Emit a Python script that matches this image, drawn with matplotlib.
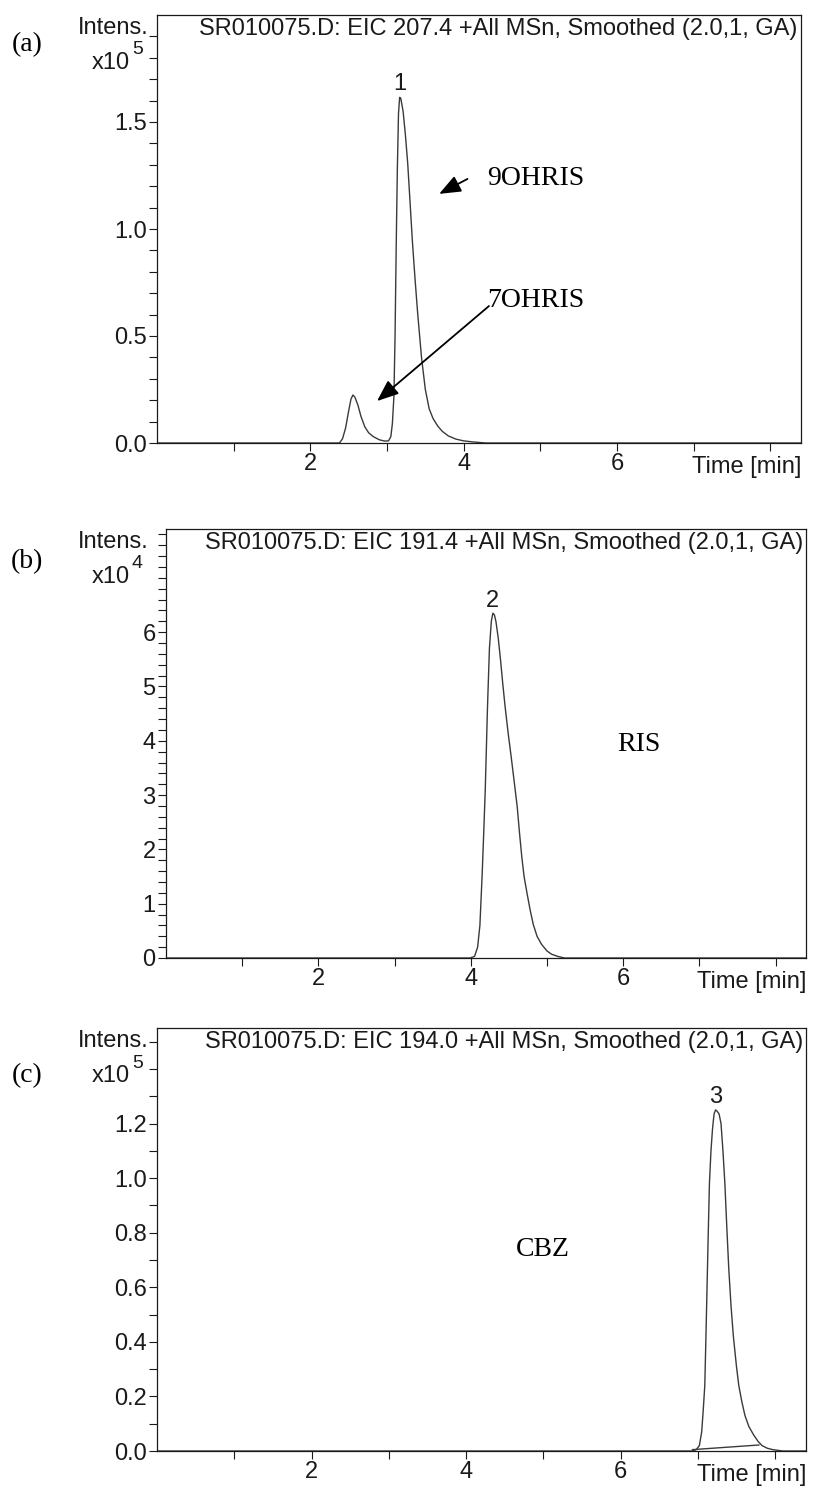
import matplotlib

matplotlib.use("Agg")
import matplotlib.pyplot as plt
from matplotlib.ticker import FixedLocator, FuncFormatter

SANS = "Liberation Sans"
SERIF = "Liberation Serif"
INK = "#1a1a1a"
TRACE = "#3a3a3a"

# (a) EIC 207.4, intensity in units of 1e5
A_TIME = [0.0, 2.38, 2.42, 2.46, 2.50, 2.53, 2.555, 2.58, 2.62, 2.66, 2.71, 2.76,
          2.82, 2.90, 2.97, 3.02, 3.05, 3.07, 3.09, 3.105, 3.12, 3.135, 3.15,
          3.165, 3.18, 3.21, 3.24, 3.27, 3.30, 3.33, 3.365, 3.40, 3.45, 3.50,
          3.55, 3.60, 3.66, 3.72, 3.80, 3.90, 4.00, 4.12, 4.29, 8.4]
A_INT = [0.0, 0.0, 0.02, 0.07, 0.15, 0.205, 0.224, 0.215, 0.178, 0.125, 0.076,
         0.048, 0.030, 0.015, 0.009, 0.010, 0.03, 0.09, 0.216, 0.50, 0.917, 1.28,
         1.54, 1.615, 1.61, 1.55, 1.44, 1.307, 1.13, 0.949, 0.77, 0.606, 0.40,
         0.25, 0.16, 0.115, 0.08, 0.055, 0.033, 0.018, 0.010, 0.005, 0.0, 0.0]

# (b) EIC 191.4, intensity in units of 1e4
B_TIME = [0.0, 3.99, 4.05, 4.09, 4.12, 4.15, 4.17, 4.19, 4.22, 4.245, 4.27, 4.29,
          4.31, 4.33, 4.36, 4.39, 4.42, 4.45, 4.49, 4.53, 4.57, 4.61, 4.64, 4.67,
          4.70, 4.74, 4.78, 4.82, 4.87, 4.93, 5.00, 5.06, 5.14, 5.23, 8.4]
B_INT = [0.0, 0.0, 0.03, 0.2, 0.6, 1.55, 2.3, 3.09, 4.64, 5.7, 6.2, 6.35, 6.32,
         6.2, 5.9, 5.5, 5.05, 4.64, 4.15, 3.71, 3.25, 2.78, 2.3, 1.86, 1.5, 1.18,
         0.88, 0.62, 0.40, 0.25, 0.13, 0.07, 0.03, 0.0, 0.0]

# (c) EIC 194.0, intensity in units of 1e5
C_TIME = [0.0, 6.93, 6.98, 7.02, 7.05, 7.07, 7.09, 7.105, 7.12, 7.135, 7.15, 7.17,
          7.19, 7.21, 7.23, 7.25, 7.275, 7.30, 7.325, 7.35, 7.375, 7.40, 7.43,
          7.46, 7.50, 7.53, 7.57, 7.61, 7.66, 7.72, 7.78, 7.83, 7.90, 7.97, 8.10, 8.4]
C_INT = [0.0, 0.0, 0.005, 0.02, 0.07, 0.15, 0.24, 0.42, 0.61, 0.80, 0.98, 1.10,
         1.18, 1.235, 1.25, 1.245, 1.235, 1.20, 1.10, 0.98, 0.82, 0.67, 0.53, 0.42,
         0.31, 0.24, 0.18, 0.13, 0.09, 0.06, 0.035, 0.02, 0.01, 0.005, 0.0, 0.0]
C_BASE_TIME = [6.93, 7.79]
C_BASE_INT = [0.005, 0.022]

PANELS = [
    {
        "tag": "(a)", "title": "SR010075.D: EIC 207.4 +All MSn, Smoothed (2.0,1, GA)",
        "exp": "5", "time": A_TIME, "inten": A_INT,
        "rect": [157, 15, 801, 443], "ylim": (0, 2.0),
        "major": [0.0, 0.5, 1.0, 1.5], "minor_step": 0.1, "fmt": "{:.1f}",
        "peak": ("1", 3.17, 1.62), "tag_dy": 30,
    },
    {
        "tag": "(b)", "title": "SR010075.D: EIC 191.4 +All MSn, Smoothed (2.0,1, GA)",
        "exp": "4", "time": B_TIME, "inten": B_INT,
        "rect": [166, 529, 806, 958], "ylim": (0, 7.9),
        "major": [0, 1, 2, 3, 4, 5, 6], "minor_step": 0.2, "fmt": "{:.0f}",
        "peak": ("2", 4.29, 6.35), "tag_dy": 33,
    },
    {
        "tag": "(c)", "title": "SR010075.D: EIC 194.0 +All MSn, Smoothed (2.0,1, GA)",
        "exp": "5", "time": C_TIME, "inten": C_INT,
        "rect": [157, 1028, 806, 1451], "ylim": (0, 1.55),
        "major": [0.0, 0.2, 0.4, 0.6, 0.8, 1.0, 1.2], "minor_step": 0.1, "fmt": "{:.1f}",
        "peak": ("3", 7.23, 1.25), "tag_dy": 48,
    },
]

W, H = 814, 1488
X_TICKS = [1, 2, 3, 4, 5, 6, 7, 8]
X_LABELED = {2, 4, 6}
FS = 17

fig = plt.figure(figsize=(W / 100, H / 100), dpi=100)

axes = []
for p in PANELS:
    x0, y0, x1, y1 = p["rect"]
    ax = fig.add_axes([x0 / W, 1 - y1 / H, (x1 - x0) / W, (y1 - y0) / H])
    axes.append(ax)

    ax.plot(p["time"], p["inten"], color=TRACE, linewidth=1.0)
    ax.set_xlim(0, 8.4)
    ax.set_ylim(*p["ylim"])

    ymax = p["ylim"][1]
    n = int(round(ymax / p["minor_step"]))
    all_y = [round(i * p["minor_step"], 3) for i in range(n + 1) if i * p["minor_step"] < ymax - 1e-6]
    minor = [v for v in all_y if all(abs(v - m) > 1e-6 for m in p["major"])]
    ax.yaxis.set_major_locator(FixedLocator(p["major"]))
    ax.yaxis.set_minor_locator(FixedLocator(minor))
    ax.yaxis.set_major_formatter(FuncFormatter(lambda v, pos, f=p["fmt"]: f.format(v)))

    ax.xaxis.set_major_locator(FixedLocator(X_TICKS))
    ax.xaxis.set_major_formatter(FuncFormatter(lambda v, pos: f"{v:.0f}" if round(v) in X_LABELED else ""))

    ax.tick_params(axis="both", which="both", direction="out", length=5.5, width=0.8,
                   color=INK, labelcolor=INK, labelsize=FS, pad=2)
    for lab in ax.get_xticklabels() + ax.get_yticklabels():
        lab.set_fontfamily(SANS)
    for spine in ax.spines.values():
        spine.set_linewidth(0.9)
        spine.set_color(INK)

    ax.text(0.995, 0.993, p["title"], transform=ax.transAxes, ha="right", va="top",
            fontsize=FS, family=SANS, color=INK)
    ax.text(1.0, -0.03, "Time [min]", transform=ax.transAxes, ha="right", va="top",
            fontsize=FS, family=SANS, color=INK)

    label, px, py = p["peak"]
    ax.annotate(label, xy=(px, py), xytext=(0, 1), textcoords="offset points",
                ha="center", va="bottom", fontsize=FS, family=SANS, color=INK)

    # y-axis caption "Intens. x10^n" in figure pixels
    fig.text(149 / W, 1 - (y0 + 13) / H, "Intens.", ha="right", va="center",
             fontsize=FS, family=SANS, color=INK)
    fig.text(130 / W, 1 - (y0 + 48) / H, "x10", ha="right", va="center",
             fontsize=FS, family=SANS, color=INK)
    fig.text(132 / W, 1 - (y0 + 35) / H, p["exp"], ha="left", va="center",
             fontsize=14, family=SANS, color=INK)
    fig.text(27 / W, 1 - (y0 + p["tag_dy"]) / H, p["tag"], ha="center", va="center",
             fontsize=20, family=SERIF, color="black")

ax_a, ax_b, ax_c = axes

# compound labels and arrows
head = "-|>,head_length=0.6,head_width=0.24"
ax_a.text(4.31, 1.238, "9OHRIS", ha="left", va="center", fontsize=20, family=SERIF)
ax_a.annotate("", xy=(3.68, 1.164), xytext=(4.05, 1.234),
              arrowprops=dict(arrowstyle=head, color="black", lw=1.3, mutation_scale=22,
                              shrinkA=0, shrinkB=0))
ax_a.text(4.31, 0.668, "7OHRIS", ha="left", va="center", fontsize=20, family=SERIF)
ax_a.annotate("", xy=(2.87, 0.196), xytext=(4.33, 0.64),
              arrowprops=dict(arrowstyle=head, color="black", lw=1.3, mutation_scale=22,
                              shrinkA=0, shrinkB=0))

ax_b.text(6.21, 3.93, "RIS", ha="center", va="center", fontsize=20, family=SERIF)

ax_c.plot(C_BASE_TIME, C_BASE_INT, color=TRACE, linewidth=1.0)
ax_c.text(4.99, 0.737, "CBZ", ha="center", va="center", fontsize=20, family=SERIF)

fig.savefig("out.png", dpi=100)
